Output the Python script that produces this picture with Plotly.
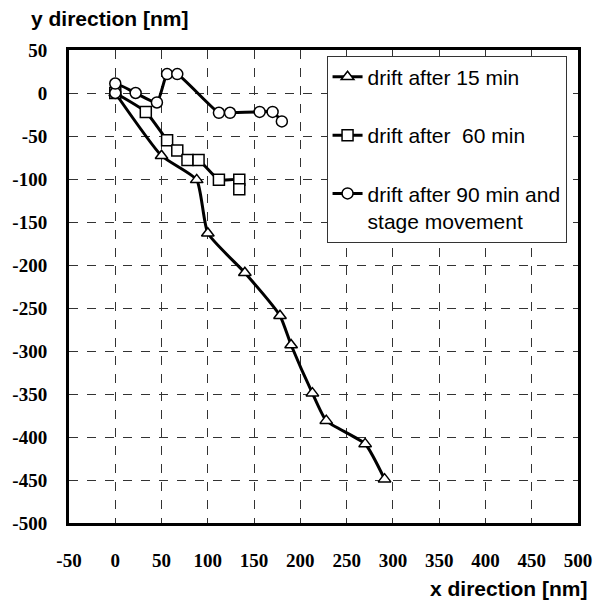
import plotly.graph_objects as go

# Data
x15 = [0, 50, 88, 100, 140, 178, 190, 213, 228, 270, 291]
y15 = [0, -73, -101, -163, -209, -259, -293, -349, -381, -408, -449]

x60 = [0, 33, 56, 67, 78, 90, 112, 134, 134]
y60 = [0, -22, -55, -67, -78, -78, -101, -101, -112]

x90 = [0, 0, 22, 45, 56, 67, 112, 124, 156, 170, 180]
y90 = [0, 11, 0, -11, 22, 22, -23, -23, -22, -22, -33]

names = ["drift after 15 min", "drift after  60 min", "drift after 90 min and<br>stage movement"]
symbols = ["triangle-up", "square", "circle"]

xticks = list(range(-50, 501, 50))
yticks = list(range(-500, 51, 50))

fig = go.Figure()
for i, (xs, ys) in enumerate([(x15, y15), (x60, y60), (x90, y90)]):
    fig.add_trace(go.Scatter(
        x=xs, y=ys, mode="lines+markers", name=names[i],
        legendgroup=str(i),
        line=dict(color="black", width=3, shape="spline", smoothing=0.5),
        marker=dict(symbol=symbols[i], size=11, color="white",
                    line=dict(color="black", width=1.5)),
    ))

tfont = dict(family="'Liberation Serif', 'DejaVu Serif', serif", size=19, color="black")
axis_common = dict(
    showline=True, linewidth=3, linecolor="black", mirror=True,
    showgrid=True, gridcolor="#333", gridwidth=1, griddash="dash",
    zeroline=False, ticks="",
)
fig.update_xaxes(range=[-50, 500], tickvals=xticks,
                 ticktext=[f"<b>{v}</b>" for v in xticks], tickfont=tfont,
                 ticklabelstandoff=18, **axis_common)
fig.update_yaxes(range=[-500, 50], tickvals=yticks,
                 ticktext=[f"<b>{v}</b>" for v in yticks], tickfont=tfont,
                 ticklabelstandoff=15, **axis_common)

fig.update_layout(
    width=604, height=608,
    margin=dict(l=66, r=25, t=50, b=85),
    plot_bgcolor="white", paper_bgcolor="white",
    showlegend=True,
    legend=dict(x=0.506, y=0.988, xanchor="left", yanchor="top",
                bordercolor="#333", borderwidth=1, bgcolor="white",
                font=dict(family="Liberation Sans", size=21, color="black"),
                tracegroupgap=28, itemwidth=30, valign="top"),
    annotations=[
        dict(text="<b>y direction [nm]</b>", xref="paper", yref="paper",
             x=-0.078, y=1.0, xanchor="left", yanchor="middle", yshift=32,
             showarrow=False, font=dict(family="Liberation Sans", size=21, color="black")),
        dict(text="<b>x direction [nm]</b>", xref="paper", yref="paper",
             x=1.023, y=0, xanchor="right", yanchor="middle", yshift=-65,
             showarrow=False, font=dict(family="Liberation Sans", size=21, color="black")),
    ],
)

fig.write_html("out.html")
